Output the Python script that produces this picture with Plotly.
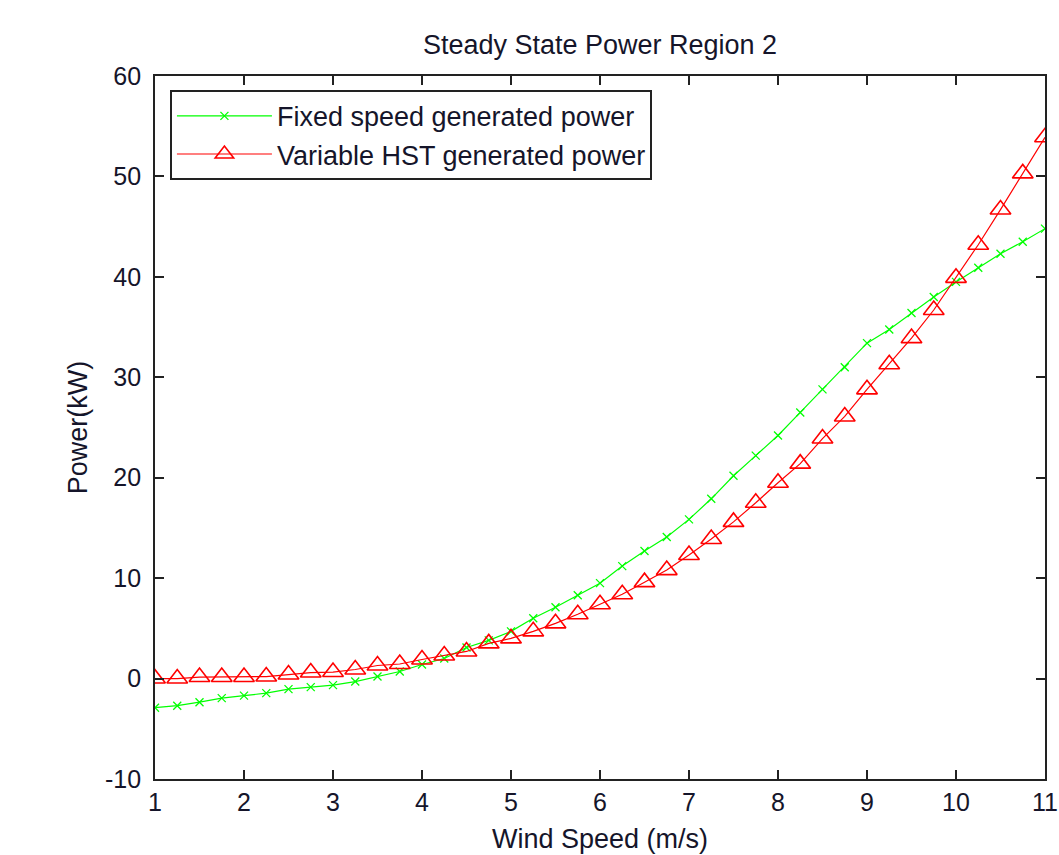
import plotly.graph_objects as go

wind_speed = [1 + 0.25 * i for i in range(41)]

fixed_power = [-2.9, -2.7, -2.35, -1.95, -1.7, -1.45, -1.05, -0.85, -0.65, -0.3,
               0.2, 0.7, 1.4, 2.0, 3.1, 3.8, 4.7, 6.0, 7.1, 8.3,
               9.5, 11.2, 12.7, 14.1, 15.85, 17.9, 20.2, 22.2, 24.2, 26.5,
               28.8, 31.0, 33.4, 34.75, 36.4, 38.0, 39.5, 40.9, 42.3, 43.5, 44.8]

hst_power = [0.0, 0.0, 0.15, 0.15, 0.15, 0.2, 0.4, 0.6, 0.65, 0.9,
             1.3, 1.45, 1.9, 2.3, 2.7, 3.5, 4.0, 4.7, 5.5, 6.4,
             7.4, 8.4, 9.6, 10.8, 12.3, 13.9, 15.6, 17.5, 19.5, 21.4,
             23.9, 26.1, 28.8, 31.3, 33.9, 36.7, 39.9, 43.2, 46.7, 50.3, 53.9]

x_ticks = [1, 2, 3, 4, 5, 6, 7, 8, 9, 10, 11]
x_labels = ["1", "2", "3", "4", "5", "6", "7", "8", "9", "10", "11"]
y_ticks = [-10, 0, 10, 20, 30, 40, 50, 60]
y_labels = ["-10", "0", "10", "20", "30", "40", "50", "60"]

FONT = "Liberation Sans, Arial, sans-serif"
TXT = "#15152a"

fig = go.Figure()
fig.add_trace(go.Scatter(
    x=wind_speed, y=fixed_power, mode="lines+markers",
    name="Fixed speed generated power",
    line=dict(color="#00ff00", width=1.2),
    marker=dict(symbol="x-thin-open", size=8, color="#00ff00",
                line=dict(color="#00ff00", width=1.3)),
))
fig.add_trace(go.Scatter(
    x=wind_speed, y=hst_power, mode="lines+markers",
    name="Variable HST generated power",
    line=dict(color="#ff0000", width=1.2),
    marker=dict(symbol="triangle-up-open", size=18, color="#ff0000",
                line=dict(color="#ff0000", width=1.6)),
))

axis_common = dict(
    showline=True, linecolor="#222222", linewidth=1.8, mirror="ticks",
    ticks="inside", ticklen=9, tickwidth=1.5, tickcolor="#222222",
    showgrid=False, zeroline=False, ticklabeloverflow="allow",
    automargin=False,
    tickfont=dict(family=FONT, size=25, color=TXT),
)

fig.update_layout(
    width=1059, height=855,
    paper_bgcolor="white", plot_bgcolor="white",
    margin=dict(l=155, r=14, t=76, b=76),
    title=dict(text="Steady State Power Region 2", x=0.5, xref="paper", xanchor="center",
               y=1 - 45 / 855, yanchor="middle", automargin=False,
               font=dict(family=FONT, size=27, color=TXT)),
    xaxis=dict(range=[1, 11], tickvals=x_ticks, ticktext=x_labels,
               ticklabelstandoff=0,
               title=dict(text="Wind Speed (m/s)", standoff=14,
                          font=dict(family=FONT, size=27, color=TXT)),
               **axis_common),
    yaxis=dict(range=[-10, 60], tickvals=y_ticks, ticktext=y_labels,
               ticklabelstandoff=7,
               title=dict(text="Power(kW)", standoff=10,
                          font=dict(family=FONT, size=27, color=TXT)),
               **axis_common),
    legend=dict(x=0.017, y=0.98, xanchor="left", yanchor="top",
                bordercolor="#222222", borderwidth=1.8, bgcolor="white",
                font=dict(family=FONT, size=27, color=TXT),
                itemwidth=95, tracegroupgap=0),
    showlegend=True,
)

fig.write_html("out.html", config={"displayModeBar": False},
               post_script="document.body.style.margin='0px';")
